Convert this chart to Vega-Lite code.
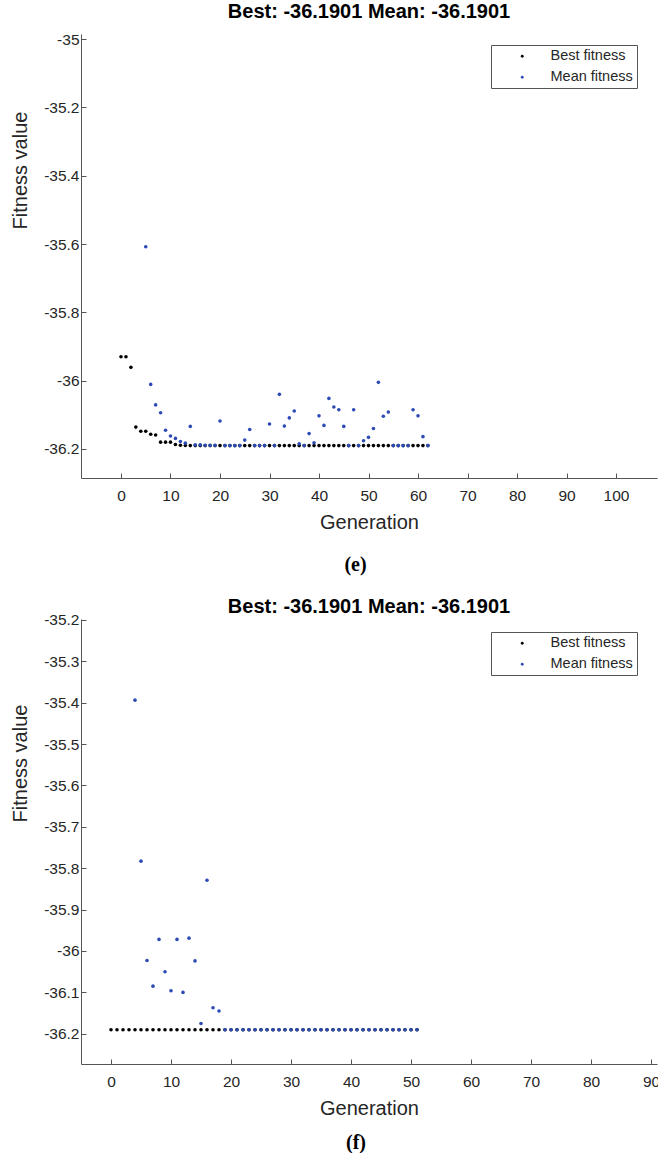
{
  "$schema": "https://vega.github.io/schema/vega-lite/v6.json",
  "background": "white",
  "padding": {"left": 10, "top": 2, "right": 0, "bottom": 0},
  "config": {
    "view": {"stroke": null},
    "font": "Liberation Sans",
    "axis": {"domainColor": "#555555", "tickColor": "#555555", "tickSize": -5, "labelFont": "Liberation Sans", "labelFontSize": 15.5, "labelColor": "#262626", "titleFont": "Liberation Sans", "titleFontSize": 20, "titleFontWeight": "normal", "titleColor": "#262626", "grid": false},
    "legend": {"orient": "none", "legendX": 410, "strokeColor": "#555555", "fillColor": "white", "padding": 4, "labelFont": "Liberation Sans", "labelFontSize": 14.5, "labelColor": "#262626", "symbolType": "circle", "symbolSize": 8, "symbolStrokeWidth": 0, "symbolOffset": 20, "labelOffset": 21, "rowPadding": 6, "titlePadding": 0},
    "title": {"font": "Liberation Sans", "fontSize": 20, "fontWeight": "bold", "color": "#000000", "anchor": "middle", "frame": "group"}
  },
  "datasets": {
    "e": [
      {"g":0,"v":-35.93,"s":"Best fitness"},{"g":1,"v":-35.93,"s":"Best fitness"},{"g":2,"v":-35.961,"s":"Best fitness"},{"g":3,"v":-36.136,"s":"Best fitness"},{"g":4,"v":-36.148,"s":"Best fitness"},{"g":5,"v":-36.148,"s":"Best fitness"},{"g":6,"v":-36.157,"s":"Best fitness"},{"g":7,"v":-36.159,"s":"Best fitness"},{"g":8,"v":-36.18,"s":"Best fitness"},{"g":9,"v":-36.18,"s":"Best fitness"},{"g":10,"v":-36.18,"s":"Best fitness"},{"g":11,"v":-36.187,"s":"Best fitness"},{"g":12,"v":-36.189,"s":"Best fitness"},{"g":13,"v":-36.19,"s":"Best fitness"},
      {"g":14,"v":-36.1901,"s":"Best fitness"},{"g":15,"v":-36.1901,"s":"Best fitness"},{"g":16,"v":-36.1901,"s":"Best fitness"},{"g":17,"v":-36.1901,"s":"Best fitness"},{"g":18,"v":-36.1901,"s":"Best fitness"},{"g":19,"v":-36.1901,"s":"Best fitness"},{"g":20,"v":-36.1901,"s":"Best fitness"},{"g":21,"v":-36.1901,"s":"Best fitness"},{"g":22,"v":-36.1901,"s":"Best fitness"},{"g":23,"v":-36.1901,"s":"Best fitness"},{"g":24,"v":-36.1901,"s":"Best fitness"},{"g":25,"v":-36.1901,"s":"Best fitness"},{"g":26,"v":-36.1901,"s":"Best fitness"},{"g":27,"v":-36.1901,"s":"Best fitness"},{"g":28,"v":-36.1901,"s":"Best fitness"},{"g":29,"v":-36.1901,"s":"Best fitness"},{"g":30,"v":-36.1901,"s":"Best fitness"},{"g":31,"v":-36.1901,"s":"Best fitness"},{"g":32,"v":-36.1901,"s":"Best fitness"},{"g":33,"v":-36.1901,"s":"Best fitness"},{"g":34,"v":-36.1901,"s":"Best fitness"},{"g":35,"v":-36.1901,"s":"Best fitness"},{"g":36,"v":-36.1901,"s":"Best fitness"},{"g":37,"v":-36.1901,"s":"Best fitness"},{"g":38,"v":-36.1901,"s":"Best fitness"},{"g":39,"v":-36.1901,"s":"Best fitness"},{"g":40,"v":-36.1901,"s":"Best fitness"},{"g":41,"v":-36.1901,"s":"Best fitness"},{"g":42,"v":-36.1901,"s":"Best fitness"},{"g":43,"v":-36.1901,"s":"Best fitness"},{"g":44,"v":-36.1901,"s":"Best fitness"},{"g":45,"v":-36.1901,"s":"Best fitness"},{"g":46,"v":-36.1901,"s":"Best fitness"},{"g":47,"v":-36.1901,"s":"Best fitness"},{"g":48,"v":-36.1901,"s":"Best fitness"},{"g":49,"v":-36.1901,"s":"Best fitness"},{"g":50,"v":-36.1901,"s":"Best fitness"},{"g":51,"v":-36.1901,"s":"Best fitness"},{"g":52,"v":-36.1901,"s":"Best fitness"},{"g":53,"v":-36.1901,"s":"Best fitness"},{"g":54,"v":-36.1901,"s":"Best fitness"},{"g":55,"v":-36.1901,"s":"Best fitness"},{"g":56,"v":-36.1901,"s":"Best fitness"},{"g":57,"v":-36.1901,"s":"Best fitness"},{"g":58,"v":-36.1901,"s":"Best fitness"},{"g":59,"v":-36.1901,"s":"Best fitness"},{"g":60,"v":-36.1901,"s":"Best fitness"},{"g":61,"v":-36.1901,"s":"Best fitness"},{"g":62,"v":-36.1901,"s":"Best fitness"},
      {"g":5,"v":-35.608,"s":"Mean fitness"},{"g":6,"v":-36.011,"s":"Mean fitness"},{"g":7,"v":-36.071,"s":"Mean fitness"},{"g":8,"v":-36.094,"s":"Mean fitness"},{"g":9,"v":-36.145,"s":"Mean fitness"},{"g":10,"v":-36.162,"s":"Mean fitness"},{"g":11,"v":-36.169,"s":"Mean fitness"},{"g":12,"v":-36.178,"s":"Mean fitness"},{"g":13,"v":-36.183,"s":"Mean fitness"},{"g":14,"v":-36.134,"s":"Mean fitness"},{"g":15,"v":-36.188,"s":"Mean fitness"},{"g":16,"v":-36.188,"s":"Mean fitness"},{"g":17,"v":-36.189,"s":"Mean fitness"},{"g":18,"v":-36.189,"s":"Mean fitness"},{"g":19,"v":-36.189,"s":"Mean fitness"},{"g":20,"v":-36.118,"s":"Mean fitness"},{"g":21,"v":-36.1901,"s":"Mean fitness"},{"g":22,"v":-36.1901,"s":"Mean fitness"},{"g":23,"v":-36.1901,"s":"Mean fitness"},{"g":24,"v":-36.1901,"s":"Mean fitness"},{"g":25,"v":-36.174,"s":"Mean fitness"},{"g":26,"v":-36.143,"s":"Mean fitness"},{"g":27,"v":-36.1901,"s":"Mean fitness"},{"g":28,"v":-36.1901,"s":"Mean fitness"},{"g":29,"v":-36.1901,"s":"Mean fitness"},{"g":30,"v":-36.127,"s":"Mean fitness"},{"g":31,"v":-36.1901,"s":"Mean fitness"},{"g":32,"v":-36.04,"s":"Mean fitness"},{"g":33,"v":-36.133,"s":"Mean fitness"},{"g":34,"v":-36.109,"s":"Mean fitness"},{"g":35,"v":-36.089,"s":"Mean fitness"},{"g":36,"v":-36.185,"s":"Mean fitness"},{"g":37,"v":-36.1901,"s":"Mean fitness"},{"g":38,"v":-36.155,"s":"Mean fitness"},{"g":39,"v":-36.182,"s":"Mean fitness"},{"g":40,"v":-36.103,"s":"Mean fitness"},{"g":41,"v":-36.131,"s":"Mean fitness"},{"g":42,"v":-36.052,"s":"Mean fitness"},{"g":43,"v":-36.077,"s":"Mean fitness"},{"g":44,"v":-36.085,"s":"Mean fitness"},{"g":45,"v":-36.134,"s":"Mean fitness"},{"g":46,"v":-36.1901,"s":"Mean fitness"},{"g":47,"v":-36.085,"s":"Mean fitness"},{"g":48,"v":-36.1901,"s":"Mean fitness"},{"g":49,"v":-36.176,"s":"Mean fitness"},{"g":50,"v":-36.166,"s":"Mean fitness"},{"g":51,"v":-36.14,"s":"Mean fitness"},{"g":52,"v":-36.005,"s":"Mean fitness"},{"g":53,"v":-36.104,"s":"Mean fitness"},{"g":54,"v":-36.092,"s":"Mean fitness"},{"g":55,"v":-36.1901,"s":"Mean fitness"},{"g":56,"v":-36.1901,"s":"Mean fitness"},{"g":57,"v":-36.1901,"s":"Mean fitness"},{"g":58,"v":-36.1901,"s":"Mean fitness"},{"g":59,"v":-36.085,"s":"Mean fitness"},{"g":60,"v":-36.103,"s":"Mean fitness"},{"g":61,"v":-36.164,"s":"Mean fitness"},{"g":62,"v":-36.1901,"s":"Mean fitness"}
    ],
    "f": [
      {"g":0,"v":-36.1901,"s":"Best fitness"},{"g":1,"v":-36.1901,"s":"Best fitness"},{"g":2,"v":-36.1901,"s":"Best fitness"},{"g":3,"v":-36.1901,"s":"Best fitness"},{"g":4,"v":-36.1901,"s":"Best fitness"},{"g":5,"v":-36.1901,"s":"Best fitness"},{"g":6,"v":-36.1901,"s":"Best fitness"},{"g":7,"v":-36.1901,"s":"Best fitness"},{"g":8,"v":-36.1901,"s":"Best fitness"},{"g":9,"v":-36.1901,"s":"Best fitness"},{"g":10,"v":-36.1901,"s":"Best fitness"},{"g":11,"v":-36.1901,"s":"Best fitness"},{"g":12,"v":-36.1901,"s":"Best fitness"},{"g":13,"v":-36.1901,"s":"Best fitness"},{"g":14,"v":-36.1901,"s":"Best fitness"},{"g":15,"v":-36.1901,"s":"Best fitness"},{"g":16,"v":-36.1901,"s":"Best fitness"},{"g":17,"v":-36.1901,"s":"Best fitness"},{"g":18,"v":-36.1901,"s":"Best fitness"},{"g":19,"v":-36.1901,"s":"Best fitness"},{"g":20,"v":-36.1901,"s":"Best fitness"},{"g":21,"v":-36.1901,"s":"Best fitness"},{"g":22,"v":-36.1901,"s":"Best fitness"},{"g":23,"v":-36.1901,"s":"Best fitness"},{"g":24,"v":-36.1901,"s":"Best fitness"},{"g":25,"v":-36.1901,"s":"Best fitness"},{"g":26,"v":-36.1901,"s":"Best fitness"},{"g":27,"v":-36.1901,"s":"Best fitness"},{"g":28,"v":-36.1901,"s":"Best fitness"},{"g":29,"v":-36.1901,"s":"Best fitness"},{"g":30,"v":-36.1901,"s":"Best fitness"},{"g":31,"v":-36.1901,"s":"Best fitness"},{"g":32,"v":-36.1901,"s":"Best fitness"},{"g":33,"v":-36.1901,"s":"Best fitness"},{"g":34,"v":-36.1901,"s":"Best fitness"},{"g":35,"v":-36.1901,"s":"Best fitness"},{"g":36,"v":-36.1901,"s":"Best fitness"},{"g":37,"v":-36.1901,"s":"Best fitness"},{"g":38,"v":-36.1901,"s":"Best fitness"},{"g":39,"v":-36.1901,"s":"Best fitness"},{"g":40,"v":-36.1901,"s":"Best fitness"},{"g":41,"v":-36.1901,"s":"Best fitness"},{"g":42,"v":-36.1901,"s":"Best fitness"},{"g":43,"v":-36.1901,"s":"Best fitness"},{"g":44,"v":-36.1901,"s":"Best fitness"},{"g":45,"v":-36.1901,"s":"Best fitness"},{"g":46,"v":-36.1901,"s":"Best fitness"},{"g":47,"v":-36.1901,"s":"Best fitness"},{"g":48,"v":-36.1901,"s":"Best fitness"},{"g":49,"v":-36.1901,"s":"Best fitness"},{"g":50,"v":-36.1901,"s":"Best fitness"},{"g":51,"v":-36.1901,"s":"Best fitness"},
      {"g":4,"v":-35.394,"s":"Mean fitness"},{"g":5,"v":-35.783,"s":"Mean fitness"},{"g":6,"v":-36.023,"s":"Mean fitness"},{"g":7,"v":-36.085,"s":"Mean fitness"},{"g":8,"v":-35.972,"s":"Mean fitness"},{"g":9,"v":-36.05,"s":"Mean fitness"},{"g":10,"v":-36.096,"s":"Mean fitness"},{"g":11,"v":-35.972,"s":"Mean fitness"},{"g":12,"v":-36.1,"s":"Mean fitness"},{"g":13,"v":-35.969,"s":"Mean fitness"},{"g":14,"v":-36.024,"s":"Mean fitness"},{"g":15,"v":-36.175,"s":"Mean fitness"},{"g":16,"v":-35.829,"s":"Mean fitness"},{"g":17,"v":-36.137,"s":"Mean fitness"},{"g":18,"v":-36.145,"s":"Mean fitness"},{"g":19,"v":-36.1901,"s":"Mean fitness"},{"g":20,"v":-36.1901,"s":"Mean fitness"},{"g":21,"v":-36.1901,"s":"Mean fitness"},{"g":22,"v":-36.1901,"s":"Mean fitness"},{"g":23,"v":-36.1901,"s":"Mean fitness"},{"g":24,"v":-36.1901,"s":"Mean fitness"},{"g":25,"v":-36.1901,"s":"Mean fitness"},{"g":26,"v":-36.1901,"s":"Mean fitness"},{"g":27,"v":-36.1901,"s":"Mean fitness"},{"g":28,"v":-36.1901,"s":"Mean fitness"},{"g":29,"v":-36.1901,"s":"Mean fitness"},{"g":30,"v":-36.1901,"s":"Mean fitness"},{"g":31,"v":-36.1901,"s":"Mean fitness"},{"g":32,"v":-36.1901,"s":"Mean fitness"},{"g":33,"v":-36.1901,"s":"Mean fitness"},{"g":34,"v":-36.1901,"s":"Mean fitness"},{"g":35,"v":-36.1901,"s":"Mean fitness"},{"g":36,"v":-36.1901,"s":"Mean fitness"},{"g":37,"v":-36.1901,"s":"Mean fitness"},{"g":38,"v":-36.1901,"s":"Mean fitness"},{"g":39,"v":-36.1901,"s":"Mean fitness"},{"g":40,"v":-36.1901,"s":"Mean fitness"},{"g":41,"v":-36.1901,"s":"Mean fitness"},{"g":42,"v":-36.1901,"s":"Mean fitness"},{"g":43,"v":-36.1901,"s":"Mean fitness"},{"g":44,"v":-36.1901,"s":"Mean fitness"},{"g":45,"v":-36.1901,"s":"Mean fitness"},{"g":46,"v":-36.1901,"s":"Mean fitness"},{"g":47,"v":-36.1901,"s":"Mean fitness"},{"g":48,"v":-36.1901,"s":"Mean fitness"},{"g":49,"v":-36.1901,"s":"Mean fitness"},{"g":50,"v":-36.1901,"s":"Mean fitness"},{"g":51,"v":-36.1901,"s":"Mean fitness"}
    ]
  },
  "title": {"text": "(f)", "orient": "bottom", "font": "Liberation Serif", "fontSize": 20, "fontWeight": "bold", "frame": "group", "offset": 14, "dx": -13},
  "spacing": 21,
  "resolve": {"scale": {"color": "independent"}, "legend": {"color": "independent"}},
  "vconcat": [
    {
      "title": {"text": "(e)", "orient": "bottom", "font": "Liberation Serif", "fontSize": 20, "fontWeight": "bold", "frame": "bounds", "offset": 22, "dx": 22},
      "vconcat": [
        {
          "width": 576,
          "height": 444,
          "title": {"text": "Best: -36.1901 Mean: -36.1901", "offset": 10},
          "data": {"name": "e"},
          "mark": {"type": "point", "filled": true, "size": 13, "opacity": 1},
          "encoding": {
            "x": {"field": "g", "type": "quantitative", "scale": {"domain": [-8.08, 108.28], "nice": false, "zero": false}, "axis": {"values": [0,10,20,30,40,50,60,70,80,90,100], "title": "Generation", "labelPadding": 15, "titlePadding": 9}},
            "y": {"field": "v", "type": "quantitative", "scale": {"domain": [-36.285, -34.985], "nice": false, "zero": false}, "axis": {"values": [-36.2,-36,-35.8,-35.6,-35.4,-35.2,-35], "labelExpr": "'' + datum.value", "title": "Fitness value", "labelPadding": 7, "titleX": -51, "titleY": 136}},
            "color": {"field": "s", "type": "nominal", "scale": {"domain": ["Best fitness", "Mean fitness"], "range": ["#000000", "#2d4bb5"]}, "legend": {"title": null, "legendY": 11}}
          }
        }
      ]
    },
    {
      "width": 576,
      "height": 445,
      "title": {"text": "Best: -36.1901 Mean: -36.1901", "offset": -4},
      "data": {"name": "f"},
      "mark": {"type": "point", "filled": true, "size": 13, "opacity": 1},
      "encoding": {
        "x": {"field": "g", "type": "quantitative", "scale": {"domain": [-5, 91], "nice": false, "zero": false}, "axis": {"values": [0,10,20,30,40,50,60,70,80,90], "title": "Generation", "labelPadding": 15, "titlePadding": 9}},
        "y": {"field": "v", "type": "quantitative", "scale": {"domain": [-36.273, -35.198], "nice": false, "zero": false}, "axis": {"values": [-36.2,-36.1,-36,-35.9,-35.8,-35.7,-35.6,-35.5,-35.4,-35.3,-35.2], "labelExpr": "'' + datum.value", "title": "Fitness value", "labelPadding": 7, "titleX": -51, "titleY": 144}},
        "color": {"field": "s", "type": "nominal", "scale": {"domain": ["Best fitness", "Mean fitness"], "range": ["#000000", "#2d4bb5"]}, "legend": {"title": null, "legendY": 13}}
      }
    }
  ]
}
